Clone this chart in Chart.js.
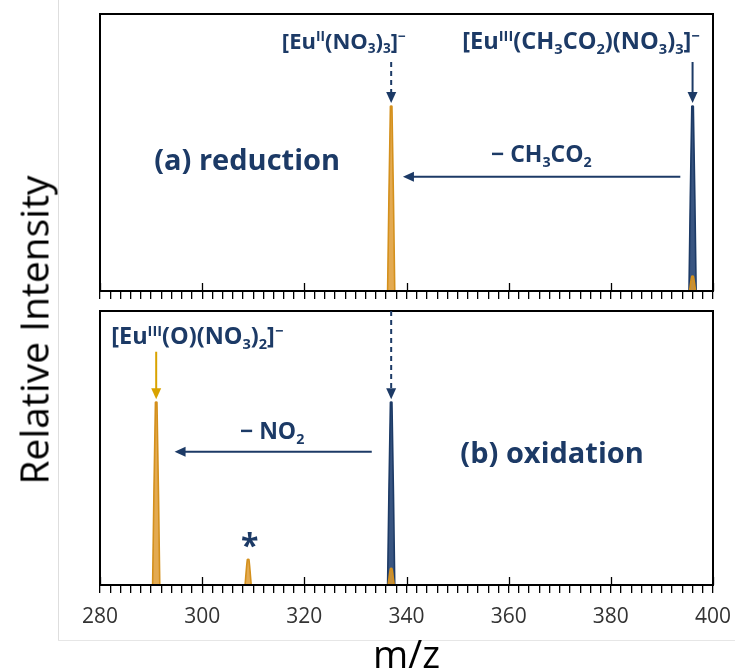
<!DOCTYPE html>
<html>
<head>
<meta charset="utf-8">
<script src="https://cdn.jsdelivr.net/npm/chart.js@4.4.1/dist/chart.umd.min.js"></script>
<style>
  html, body { margin: 0; padding: 0; background: #fff; }
  #wrap { position: relative; width: 735px; height: 672px; overflow: hidden; font-family: "Open Sans", sans-serif; }
  #topPanel { position: absolute; left: 0; top: 0; }
  #bottomPanel { position: absolute; left: 0; top: 300px; }
  #yTitle { position: absolute; left: 33px; top: 330px; transform: translate(-50%, -50%) rotate(-90deg);
            font-size: 39px; white-space: nowrap; color: #000; line-height: 1; }
  #frameV { position: absolute; left: 58px; top: 0; width: 1px; height: 640px; background: #dedede; }
  #frameH { position: absolute; left: 58px; top: 640px; width: 677px; height: 1px; background: #e6e6e6; }
</style>
</head>
<body>
<div id="wrap">
  <div id="frameV"></div>
  <div id="frameH"></div>
  <canvas id="topPanel" width="735" height="300"></canvas>
  <canvas id="bottomPanel" width="735" height="372"></canvas>
  <div id="yTitle">Relative Intensity</div>
</div>
<script>
// m/z axis
const mzMin = 280;
const mzMax = 400;
const mzTickLabels = ['280', '300', '320', '340', '360', '380', '400'];

// (a) reduction: precursor (navy) and product (gold) peak profiles
const redNavyMz  = [395.3, 395.85, 396.15, 396.7];
const redNavyInt = [0, 100, 100, 0];
const redGoldMz  = [336.3, 336.85, 337.15, 337.7, 366, 395.4, 395.85, 396.15, 396.6];
const redGoldInt = [0, 100, 100, 0, null, 0, 8, 8, 0];

// (b) oxidation: precursor (navy) and product (gold) peak profiles
const oxNavyMz  = [336.3, 336.85, 337.15, 337.7];
const oxNavyInt = [0, 100, 100, 0];
const oxGoldMz  = [290.3, 290.85, 291.15, 291.7, 300, 308.4, 308.85, 309.15, 309.6, 323, 336.4, 336.85, 337.15, 337.6];
const oxGoldInt = [0, 100, 100, 0, null, 0, 14, 14, 0, null, 0, 9, 9, 0];

const NAVY = '#1c3a66';
const GOLD = '#d4901c';
const GOLD_ARROW = '#d9a300';
const FONT = '"Open Sans", sans-serif';

function toPoints(xs, ys) {
  return xs.map((x, i) => ({ x: x, y: ys[i] }));
}

// text runs: [text, kind] with kind '', 'sup' or 'sub'
function richWidth(ctx, parts, size) {
  let w = 0;
  for (const [t, k] of parts) {
    ctx.font = 'bold ' + (k ? size * 0.62 : size) + 'px ' + FONT;
    w += ctx.measureText(t).width;
  }
  return w;
}
function drawRich(ctx, parts, x, y, size, align, color) {
  const w = richWidth(ctx, parts, size);
  let cx = align === 'center' ? x - w / 2 : align === 'right' ? x - w : x;
  ctx.fillStyle = color;
  ctx.textBaseline = 'alphabetic';
  ctx.textAlign = 'left';
  for (const [t, k] of parts) {
    const s = k ? size * 0.62 : size;
    ctx.font = 'bold ' + s + 'px ' + FONT;
    const dy = k === 'sup' ? -size * 0.36 : k === 'sub' ? size * 0.2 : 0;
    ctx.fillText(t, cx, y + dy);
    cx += ctx.measureText(t).width;
  }
}
function arrowHead(ctx, x, y, dir, color) {
  // dir: 'down' or 'left', (x, y) is the tip
  const L = 11, W = 5;
  ctx.fillStyle = color;
  ctx.beginPath();
  if (dir === 'down') {
    ctx.moveTo(x, y); ctx.lineTo(x - W, y - L); ctx.lineTo(x + W, y - L);
  } else {
    ctx.moveTo(x, y); ctx.lineTo(x + L, y - W); ctx.lineTo(x + L, y + W);
  }
  ctx.closePath();
  ctx.fill();
}

// frame, crossing major ticks and annotations for each panel
const panelDecor = {
  id: 'panelDecor',
  afterDraw(chart, args, opts) {
    const { ctx, chartArea: a, scales: { x, y } } = chart;
    ctx.save();
    ctx.strokeStyle = '#000';
    ctx.lineWidth = 2;
    ctx.strokeRect(a.left, a.top, a.right - a.left, a.bottom - a.top);
    ctx.lineWidth = 1.3;
    for (const t of x.ticks) {
      if (t.value % 20 === 0) {
        const px = Math.round(x.getPixelForValue(t.value)) + 0.5;
        ctx.beginPath(); ctx.moveTo(px, a.bottom); ctx.lineTo(px, a.bottom - 8); ctx.stroke();
      }
    }
    for (const ar of opts.arrows || []) {
      const color = ar.color || NAVY;
      ctx.strokeStyle = color;
      ctx.lineWidth = 2;
      ctx.setLineDash(ar.dashed ? [5, 4] : []);
      const x1 = x.getPixelForValue(ar.from[0]), y1 = y.getPixelForValue(ar.from[1]);
      const x2 = x.getPixelForValue(ar.to[0]), y2 = y.getPixelForValue(ar.to[1]);
      const dir = Math.abs(x2 - x1) > Math.abs(y2 - y1) ? 'left' : 'down';
      ctx.beginPath();
      ctx.moveTo(x1, y1);
      if (dir === 'down') ctx.lineTo(x2, y2 - 10); else ctx.lineTo(x2 + 10, y2);
      ctx.stroke();
      ctx.setLineDash([]);
      arrowHead(ctx, x2, y2, dir, color);
    }
    for (const lb of opts.labels || []) {
      drawRich(ctx, lb.parts, x.getPixelForValue(lb.at[0]), y.getPixelForValue(lb.at[1]),
               lb.size, lb.align || 'center', lb.color || NAVY);
    }
    ctx.restore();
  }
};

function xScale(showLabels) {
  return {
    type: 'linear',
    min: mzMin,
    max: mzMax,
    border: { display: true, color: '#000', width: 2 },
    grid: { display: true, drawOnChartArea: false, drawTicks: true, tickLength: 8, color: '#000', lineWidth: 1.3 },
    ticks: {
      display: showLabels,
      stepSize: 2,
      autoSkip: false,
      maxRotation: 0,
      padding: 11,
      color: '#333333',
      font: { family: FONT, size: 21 },
      callback: (v) => (v - mzMin) % 20 === 0 ? mzTickLabels[(v - mzMin) / 20] : ''
    },
    title: showLabels ? {
      display: true, text: 'm/z', color: '#000',
      font: { family: FONT, size: 38, lineHeight: 0.8 }, padding: { top: 0, bottom: 0 }
    } : { display: false },
    afterFit: (s) => {
      s.height = showLabels ? 87 : 9;
      s.paddingLeft = 0;
      s.paddingRight = 0;
    }
  };
}

function peakSet(xs, ys, color, fillColor) {
  return {
    data: toPoints(xs, ys),
    borderColor: color,
    backgroundColor: fillColor,
    borderWidth: 1.6,
    fill: 'origin',
    pointRadius: 0,
    tension: 0.2,
    spanGaps: false
  };
}

function panel(canvasId, navy, gold, showLabels, padTop, decor) {
  return new Chart(document.getElementById(canvasId), {
    type: 'line',
    data: {
      // the first dataset is painted last, so the gold trace sits over the navy one
      datasets: [
        peakSet(gold[0], gold[1], GOLD, 'rgba(222,155,50,0.85)'),
        peakSet(navy[0], navy[1], NAVY, 'rgba(36,66,115,0.9)')
      ]
    },
    options: {
      responsive: false,
      animation: false,
      layout: { padding: { left: 100, right: 22, top: padTop, bottom: 0 } },
      plugins: { legend: { display: false }, tooltip: { enabled: false }, panelDecor: decor },
      scales: {
        x: xScale(showLabels),
        y: { min: 0, max: 150, display: false }
      }
    },
    plugins: [panelDecor]
  });
}

panel('topPanel', [redNavyMz, redNavyInt], [redGoldMz, redGoldInt], false, 14, {
  arrows: [
    { from: [337, 124], to: [337, 101.8], dashed: true },
    { from: [396, 124], to: [396, 101.8] },
    { from: [393.6, 61.9], to: [339.3, 61.9] }
  ],
  labels: [
    { at: [315.6, 131], size: 22, align: 'left',
      parts: [['[Eu', ''], ['II', 'sup'], ['(NO', ''], ['3', 'sub'], [')', ''], ['3', 'sub'], [']', ''], ['\u2212', 'sup']] },
    { at: [350.9, 131], size: 23.6, align: 'left',
      parts: [['[Eu', ''], ['III', 'sup'], ['(CH', ''], ['3', 'sub'], ['CO', ''], ['2', 'sub'], [')(NO', ''], ['3', 'sub'], [')', ''], ['3', 'sub'], [']', ''], ['\u2212', 'sup']] },
    { at: [308.8, 65.5], size: 29, parts: [['(a) reduction', '']] },
    { at: [366.4, 69.9], size: 23, parts: [['\u2212 CH', ''], ['3', 'sub'], ['CO', ''], ['2', 'sub']] }
  ]
});

panel('bottomPanel', [oxNavyMz, oxNavyInt], [oxGoldMz, oxGoldInt], true, 11, {
  arrows: [
    { from: [291, 127.7], to: [291, 101.7], color: GOLD_ARROW },
    { from: [337, 150], to: [337, 101.7], dashed: true },
    { from: [333.2, 73], to: [294.6, 73] }
  ],
  labels: [
    { at: [282.2, 131.9], size: 23.5, align: 'left',
      parts: [['[Eu', ''], ['III', 'sup'], ['(O)(NO', ''], ['3', 'sub'], [')', ''], ['2', 'sub'], [']', ''], ['\u2212', 'sup']] },
    { at: [313.7, 79.8], size: 23, parts: [['\u2212 NO', ''], ['2', 'sub']] },
    { at: [368.5, 67], size: 29, parts: [['(b) oxidation', '']] },
    { at: [309.3, 15.5], size: 32, parts: [['*', '']] }
  ]
});
</script>
</body>
</html>
